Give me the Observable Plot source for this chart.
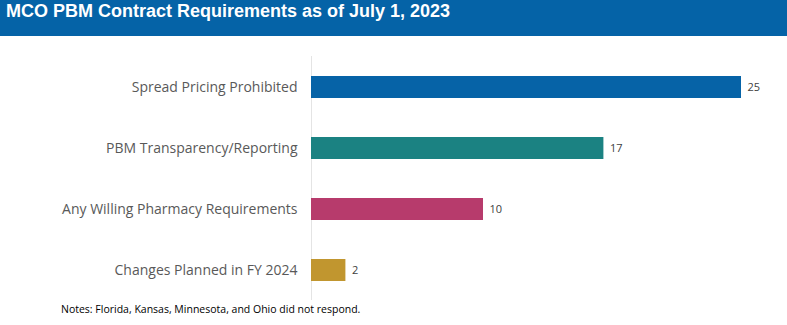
<!DOCTYPE html>
<html>
<head>
<meta charset="utf-8">
<script src="https://cdn.jsdelivr.net/npm/d3@7"></script>
<script src="https://cdn.jsdelivr.net/npm/@observablehq/plot@0.6"></script>
<style>
  html, body { margin: 0; padding: 0; background: #fff; }
  #wrap { position: relative; width: 787px; height: 325px; overflow: hidden; }
  #title { position: absolute; left: 0; top: 0; width: 787px; height: 36px; background: #0563A7;
    color: #fff; font-family: "Liberation Sans", Arial, sans-serif; font-weight: bold; font-size: 18px;
    line-height: 18px; box-sizing: border-box; padding: 2px 0 0 6px; }
  #chart { position: absolute; left: 0; top: 36px; }
  #note { position: absolute; left: 61px; top: 302px; font-family: "Open Sans", sans-serif; font-size: 10.5px; color: #000; }
</style>
</head>
<body>
<div id="wrap">
  <div id="title">MCO PBM Contract Requirements as of July 1, 2023</div>
  <div id="chart"></div>
  <div id="note">Notes: Florida, Kansas, Minnesota, and Ohio did not respond.</div>
</div>
<script>
const categories = ["Spread Pricing Prohibited", "PBM Transparency/Reporting", "Any Willing Pharmacy Requirements", "Changes Planned in FY 2024"];
const values = [25, 17, 10, 2];
const colors = ["#0663A7", "#1B8282", "#B73B6C", "#C1962F"];

const data = categories.map((c, i) => ({category: c, value: values[i], color: colors[i]}));

const chart = Plot.plot({
  width: 787,
  height: 270,
  marginLeft: 311,
  marginRight: 46,
  marginTop: 20,
  marginBottom: 6,
  style: {fontFamily: "'Open Sans', sans-serif", background: "transparent"},
  x: {domain: [0, 25], axis: null},
  y: {domain: categories, paddingInner: 0.64, paddingOuter: 0.32, label: null},
  marks: [
    Plot.ruleX([0], {stroke: "#e4e4e4", strokeWidth: 1}),
    Plot.barX(data, {x: "value", y: "category", fill: "color"}),
    Plot.text(data, {x: "value", y: "category", text: d => String(d.value), textAnchor: "start", dx: 6, fontSize: 11, fill: "#404040"}),
    Plot.axisY({tickSize: 0, tickPadding: 14, fontSize: 14, color: "#595959", label: null})
  ]
});
document.getElementById("chart").appendChild(chart);
</script>
</body>
</html>
